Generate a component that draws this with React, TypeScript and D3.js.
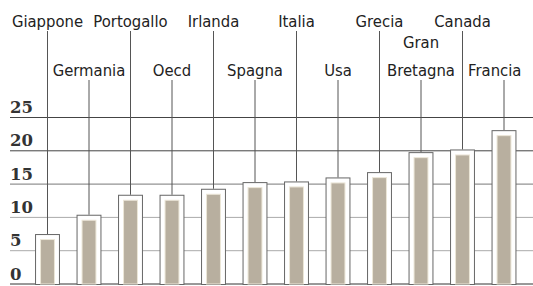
import React from "react";
import * as d3 from "d3";

const countries = [
  "Giappone",
  "Germania",
  "Portogallo",
  "Oecd",
  "Irlanda",
  "Spagna",
  "Italia",
  "Usa",
  "Grecia",
  "Gran Bretagna",
  "Canada",
  "Francia",
];
const values = [7.5, 10.4, 13.4, 13.4, 14.3, 15.3, 15.4, 16.0, 16.8, 19.8, 20.2, 23.1];
const ticks = [0, 5, 10, 15, 20, 25];

const width = 533;
const height = 286;

const App: React.FC = () => {
  const x = d3
    .scaleBand<string>()
    .domain(countries)
    .range([26.75, 524.75])
    .paddingInner(0.4)
    .paddingOuter(0.2);

  const y = d3.scaleLinear().domain([0, 25]).range([284, 117.5]);

  const bw = x.bandwidth();
  const inset = 5.5;

  const gridColor = (t: number) => {
    if (t === 0) return "#333";
    if (t >= 20) return "#444";
    if (t === 15) return "#777";
    return "#aaa";
  };

  const labelFont = "'DejaVu Sans Condensed', 'DejaVu Sans', sans-serif";

  return (
    <svg
      width={width}
      height={height}
      style={{ position: "absolute", left: 0, top: 0, background: "#fff" }}
    >
      {/* gridlines + y labels */}
      {ticks.map((t) => (
        <g key={`t-${t}`}>
          <line
            x1={10}
            x2={width}
            y1={y(t)}
            y2={y(t)}
            stroke={gridColor(t)}
            strokeWidth={1}
          />
          <text
            x={10}
            y={y(t) - 4.5}
            fontFamily="'DejaVu Serif', serif"
            fontWeight="bold"
            fontSize={16.5}
            fill="#333"
          >
            {t}
          </text>
        </g>
      ))}

      {/* leader lines */}
      {countries.map((c, i) => {
        const cx = (x(c) ?? 0) + bw / 2;
        const top = i % 2 === 0 ? 31 : 80;
        return (
          <line
            key={`l-${c}`}
            x1={cx}
            x2={cx}
            y1={top}
            y2={y(values[i])}
            stroke="#555"
            strokeWidth={1}
          />
        );
      })}

      {/* bars */}
      {countries.map((c, i) => {
        const bx = x(c) ?? 0;
        const by = y(values[i]);
        return (
          <g key={`b-${c}`}>
            <rect
              x={bx + 0.5}
              y={by + 0.5}
              width={bw - 1}
              height={y(0) - by}
              fill="#fff"
              stroke="#666"
              strokeWidth={1}
            />
            <rect
              x={bx + inset}
              y={by + inset}
              width={bw - inset * 2}
              height={y(0) - by - inset}
              fill="#b8af9f"
              stroke="#ece6d8"
              strokeWidth={1}
            />
          </g>
        );
      })}

      {/* category labels */}
      {countries.map((c, i) => {
        const cx = (x(c) ?? 0) + bw / 2;
        const last = i === countries.length - 1;
        const tx = last ? (x(c) ?? 0) + bw + 5 : cx;
        const anchor = last ? "end" : "middle";
        const baseline = i % 2 === 0 ? 27 : 76;
        const words = c.split(" ");
        return (
          <text
            key={`c-${c}`}
            x={tx}
            y={baseline - (words.length - 1) * 28}
            textAnchor={anchor}
            fontFamily={labelFont}
            fontSize={16.5}
            fill="#222"
          >
            {words.map((w, k) => (
              <tspan key={w} x={tx} dy={k === 0 ? 0 : 28}>
                {w}
              </tspan>
            ))}
          </text>
        );
      })}
    </svg>
  );
};

export default App;
